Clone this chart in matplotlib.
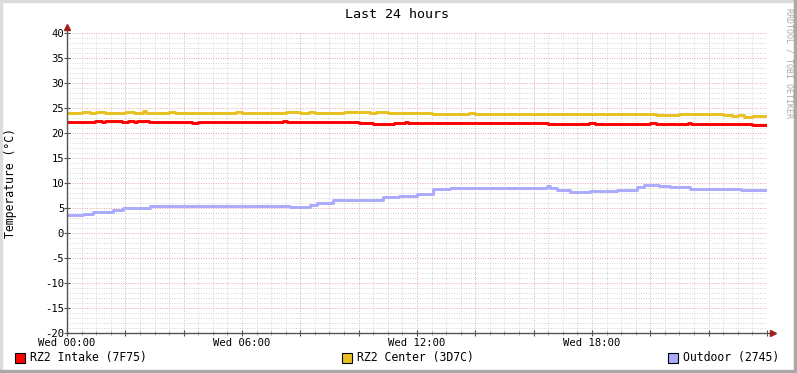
import matplotlib.pyplot as plt
from matplotlib.patches import Rectangle
from matplotlib.ticker import MultipleLocator

plt.rcParams["axes.unicode_minus"] = False  # rrdtool prints a plain hyphen

# hours since Wed 00:00 where the value changes (step lines, like rrdtool)
intake_t = [0, 0.95, 1.2, 1.3, 1.9, 2.1, 2.3, 2.4, 2.8, 4.3, 4.5, 7.4, 7.55, 9.6, 10.0, 10.5, 11.2,
            11.6, 11.7, 13.3, 13.5, 16.3, 16.5, 17.9, 18.1, 20.0, 20.2, 21.3, 21.4, 22.8, 23.5, 24]
intake_v = [22.2, 22.4, 22.2, 22.4, 22.3, 22.4, 22.2, 22.4, 22.2, 22.0, 22.2, 22.4, 22.3, 22.3, 22.1, 21.9, 22.1,
            22.2, 22.1, 22.1, 22.0, 22.0, 21.9, 22.0, 21.9, 22.0, 21.9, 22.0, 21.9, 21.8, 21.7, 21.7]

center_t = [0, 0.5, 0.8, 1.0, 1.3, 2.0, 2.3, 2.6, 2.7, 3.0, 3.5, 3.7, 4.5, 5.5, 5.8, 6.0, 7.5, 8.0,
            8.3, 8.5, 9.5, 10.0, 10.4, 10.6, 11.0, 12.5, 13.8, 14.0, 15.0, 16.3, 16.5, 17.0, 17.3,
            18.0, 20.0, 20.2, 21.0, 22.5, 22.8, 23.0, 23.2, 23.5, 24]
center_v = [24.0, 24.2, 24.0, 24.2, 24.1, 24.3, 24.1, 24.4, 24.1, 24.0, 24.2, 24.0, 24.1, 24.0, 24.2, 24.0,
            24.2, 24.0, 24.2, 24.0, 24.2, 24.3, 24.0, 24.2, 24.0, 23.9, 24.0, 23.9, 23.8, 23.9, 23.8,
            23.8, 23.9, 23.8, 23.8, 23.6, 23.9, 23.7, 23.5, 23.6, 23.3, 23.5, 23.5]

outdoor_t = [0, 0.55, 0.9, 1.58, 1.92, 2.6, 2.85, 4.56, 5.49, 7.65, 8.33, 8.57, 9.12, 9.5, 10.5,
             10.83, 11.4, 12.0, 12.55, 13.13, 13.57, 14.26, 14.95, 15.87, 16.46, 16.56, 16.8, 17.25,
             17.93, 18.85, 19.54, 19.8, 20.3, 20.67, 21.36, 22.6, 23.1, 24]
outdoor_v = [3.7, 3.9, 4.2, 4.6, 5.0, 5.1, 5.4, 5.5, 5.4, 5.2, 5.6, 6.1, 6.7, 6.6, 6.7,
             7.2, 7.5, 7.8, 8.9, 9.1, 9.0, 9.1, 9.0, 9.1, 9.5, 9.1, 8.6, 8.2,
             8.4, 8.7, 9.3, 9.6, 9.4, 9.3, 8.9, 8.8, 8.7, 8.7]

names = ["RZ2 Intake (7F75)", "RZ2 Center (3D7C)", "Outdoor (2745)"]
colors = ["#ff0000", "#e8c020", "#aaaaff"]
x_ticks = [0, 6, 12, 18]
x_labels = ["Wed 00:00", "Wed 06:00", "Wed 12:00", "Wed 18:00"]

W, H = 797, 373
mono = "DejaVu Sans Mono"
fig = plt.figure(figsize=(W / 100, H / 100), dpi=100)
ax = fig.add_axes([67 / W, (H - 333) / H, 700 / W, 300 / H])

for t, v, c in zip([intake_t, center_t, outdoor_t], [intake_v, center_v, outdoor_v], colors):
    ax.plot(t, v, color=c, linewidth=2.1, drawstyle="steps-post", solid_capstyle="butt", zorder=3)

ax.set_xlim(0, 24)
ax.set_ylim(-20, 40)
ax.xaxis.set_major_locator(MultipleLocator(2))
ax.xaxis.set_minor_locator(MultipleLocator(0.5))
ax.yaxis.set_major_locator(MultipleLocator(5))
ax.yaxis.set_minor_locator(MultipleLocator(1))
ax.grid(which="minor", color="#d4d4d4", linestyle=(0, (1, 1.5)), linewidth=0.7)
ax.grid(which="major", color="#e6a8a8", linestyle=(0, (1, 1.5)), linewidth=0.7)

# only label every 6 hours
ax.set_xticklabels([x_labels[x_ticks.index(v)] if v in x_ticks else "" for v in ax.get_xticks()])
ax.tick_params(which="major", direction="inout", length=4, width=0.8, color="#555555", labelsize=7.6, pad=0)
ax.tick_params(which="minor", direction="inout", length=3, width=0.6, color="#999999")
ax.tick_params(axis="y", which="minor", length=0)
ax.tick_params(axis="x", pad=1.5)
for lab in ax.get_xticklabels() + ax.get_yticklabels():
    lab.set_family(mono)

for s in ["top", "right", "left", "bottom"]:
    ax.spines[s].set_visible(False)
axis_col = "#555555"
ax.plot([0, 0], [0, 1 + 6 / 300], color=axis_col, lw=1, transform=ax.transAxes, clip_on=False, zorder=4)
ax.plot([0, 1 + 6 / 700], [0, 0], color=axis_col, lw=1, transform=ax.transAxes, clip_on=False, zorder=4)
ax.plot(0, 1 + 6 / 300, "^", color="#a02020", ms=4, transform=ax.transAxes, clip_on=False, zorder=5)
ax.plot(1 + 6 / 700, 0, ">", color="#a02020", ms=4, transform=ax.transAxes, clip_on=False, zorder=5)

fig.text(11 / W, 1 - 183 / H, "Temperature (°C)", family=mono, fontsize=8.3, rotation=90,
         ha="center", va="center")
fig.text(397 / W, 1 - 14 / H, "Last 24 hours", family=mono, fontsize=9.6, ha="center", va="center")
fig.text(789 / W, 1 - 8 / H, "RRDTOOL / TOBI OETIKER", family=mono, fontsize=6, color="#a8a8a8",
         rotation=270, ha="center", va="top")

# legend
for x0, name, c in zip([15, 342, 668], names, colors):
    fig.patches.append(Rectangle((x0 / W, 1 - 363 / H), 10 / W, 10 / H, transform=fig.transFigure,
                                 facecolor=c, edgecolor="black", linewidth=0.8))
    fig.text((x0 + 15) / W, 1 - 358 / H, name, family=mono, fontsize=8.3, ha="left", va="center")

# 3d-ish border of the canvas
fig.patches.append(Rectangle((0, 1 - 2 / H), 1, 2 / H, transform=fig.transFigure, color="#dcdcdc"))
fig.patches.append(Rectangle((0, 0), 2 / W, 1, transform=fig.transFigure, color="#dcdcdc"))
fig.patches.append(Rectangle((1 - 3 / W, 0), 3 / W, 1, transform=fig.transFigure, color="#a8a8a8"))
fig.patches.append(Rectangle((0, 0), 1, 3 / H, transform=fig.transFigure, color="#a8a8a8"))

fig.savefig("out.png", dpi=100)
